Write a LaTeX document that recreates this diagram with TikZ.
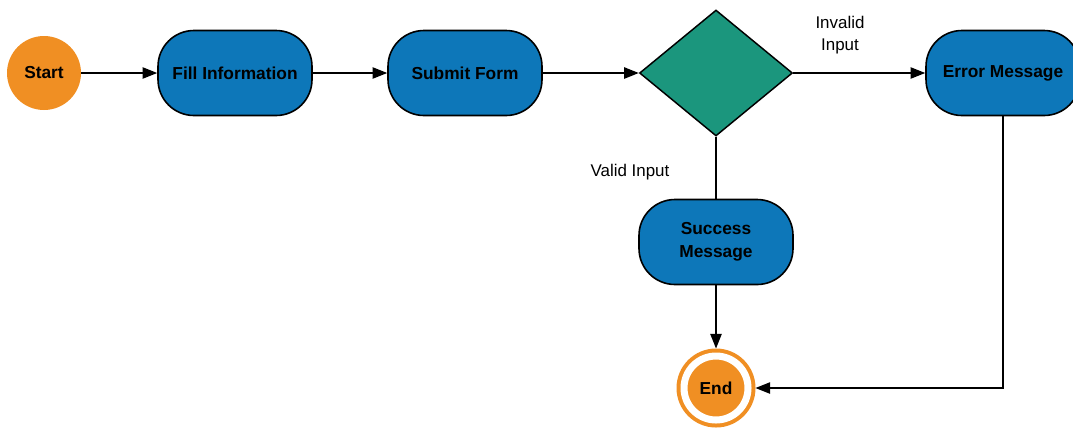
\documentclass[tikz,border=0pt]{standalone}
\usepackage{fontspec}
\setmainfont{Liberation Sans}
\usetikzlibrary{shapes.geometric,arrows.meta}
\definecolor{flowOrange}{RGB}{240,143,35}
\definecolor{flowBlue}{RGB}{13,119,185}
\definecolor{flowGreen}{RGB}{27,150,125}

\begin{document}
\begin{tikzpicture}[x=0.75pt,y=0.75pt,yscale=-1,xscale=1,
  term/.style={circle,fill=flowOrange,minimum size=55.5pt,inner sep=0pt,font=\bfseries\fontsize{13}{15}\selectfont},
  proc/.style={rounded corners=27pt,draw=black,line width=1.2pt,fill=flowBlue,minimum width=115.5pt,minimum height=63.75pt,inner sep=0pt,align=center,font=\bfseries\fontsize{13}{17}\selectfont},
  dec/.style={diamond,draw=black,line width=1.1pt,fill=flowGreen,minimum width=114.75pt,minimum height=94.5pt,inner sep=0pt},
  lbl/.style={align=center,inner sep=0.75pt,font=\fontsize{12.7}{16.5}\selectfont},
  flow/.style={line width=1.1pt,-{Triangle[length=11pt,width=8.5pt]}}]
\useasboundingbox (0,0) rectangle (1073,430);

% Start / End
\draw (44,73) node [term] (start) {Start};
\draw (716,388) node [term,draw=flowOrange,line width=3pt,double=white,double distance=5.25pt,minimum size=48pt,outer sep=5.6pt] (end) {End};

% Process boxes
\draw (235,73) node [proc] (fill) {Fill Information};
\draw (465,73) node [proc] (submit) {Submit Form};
\draw (1003,73) node [proc] (error) {Error Message};
\draw (716,242) node [proc] (success) {Success\\Message};

% Decision
\draw (716,73) node [dec] (check) {};

% Connectors
\draw [flow] (start) -- (fill);
\draw [flow] (fill) -- (submit);
\draw [flow] (submit) -- (check);
\draw [flow] (check) -- (error);
\draw [line width=1.1pt] (check) -- (success);
\draw [flow] (success) -- (end);
\draw [flow] (error.south) |- (end);

% Text Node
\draw (840,35) node [lbl] (invalid) {Invalid\\Input};
% Text Node
\draw (630,172) node [lbl] (valid) {Valid Input};

\end{tikzpicture}
\end{document}
